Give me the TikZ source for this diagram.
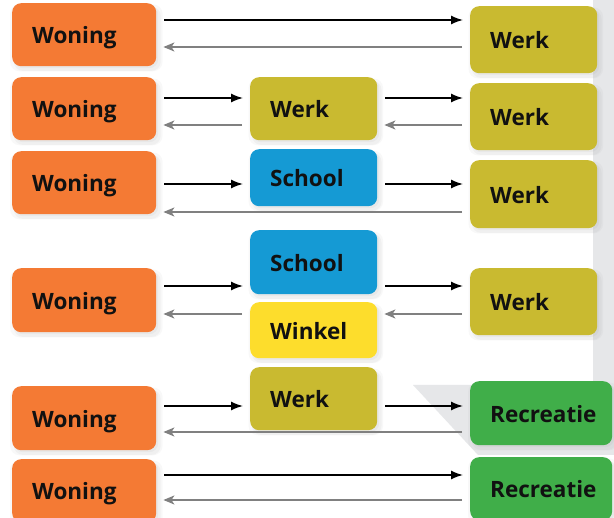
\documentclass[tikz,border=0pt]{standalone}
\usepackage{fontspec}
\setmainfont{Open Sans}
\usetikzlibrary{arrows.meta,shadows}
\definecolor{cOrange}{RGB}{244,122,52}
\definecolor{cOlive}{RGB}{201,186,48}
\definecolor{cBlue}{RGB}{21,154,212}
\definecolor{cYellow}{RGB}{253,221,44}
\definecolor{cGreen}{RGB}{64,174,73}
\definecolor{cGreyArrow}{RGB}{128,128,128}
\definecolor{cBg}{RGB}{230,231,233}
\definecolor{cText}{RGB}{17,17,17}
\tikzset{
  box/.style={rectangle, rounded corners=9pt, anchor=north west, align=left,
    inner xsep=20pt, inner ysep=0pt, text=cText, text height=18pt, text depth=0pt,
    font=\fontsize{22.5}{24}\selectfont\bfseries,
    drop shadow={opacity=0.05, shadow xshift=2pt, shadow yshift=-3pt, shadow scale=1.06},
    drop shadow={opacity=0.06, shadow xshift=3pt, shadow yshift=-4pt, shadow scale=1.02},
    drop shadow={opacity=0.07, shadow xshift=2pt, shadow yshift=-2pt}},
  wbox/.style={box, fill=cOrange, text width=104pt},
  kbox/.style={box, fill=cOlive, text width=87pt},
  sbox/.style={box, fill=cBlue, text width=87pt},
  ybox/.style={box, fill=cYellow, text width=87pt},
  rbox/.style={box, fill=cGreen, text width=102pt},
  blk/.style={draw=black, line width=1.5pt, -{Latex[length=12pt,width=9pt]}, shorten <=8pt, shorten >=7pt},
  gry/.style={draw=cGreyArrow, line width=1.5pt, -{Stealth[length=11pt,width=9pt,inset=3pt]}, shorten <=8pt, shorten >=7pt}
}
\begin{document}
\begin{tikzpicture}[x=1pt,y=-1pt]
\useasboundingbox (0,0) rectangle (614,518);
\clip (0,0) rectangle (614,518);
\fill[white] (0,0) rectangle (614,518);
% grey background panel
\fill[cBg] (593,0) -- (614,0) -- (614,455) -- (478,455) -- (413,385) -- (593,385) -- cycle;
% row 1
\node[wbox, minimum height=63pt] (w1) at (12,3) {Woning};
\node[kbox, minimum height=67pt] (k1) at (470,6) {Werk};
% row 2
\node[wbox, minimum height=63pt] (w2) at (12,77) {Woning};
\node[kbox, minimum height=63pt] (m2) at (250,77) {Werk};
\node[kbox, minimum height=67pt] (k2) at (470,83) {Werk};
% row 3
\node[wbox, minimum height=63pt] (w3) at (12,151) {Woning};
\node[sbox, minimum height=57pt] (m3) at (250,149) {School};
\node[kbox, minimum height=68pt] (k3) at (470,160) {Werk};
% row 4
\node[wbox, minimum height=64pt] (w4) at (12,268) {Woning};
\node[sbox, minimum height=64pt] (m4a) at (250,230) {School};
\node[ybox, minimum height=56pt] (m4b) at (250,302) {Winkel};
\node[kbox, minimum height=67pt] (k4) at (470,268) {Werk};
% row 5
\node[wbox, minimum height=64pt] (w5) at (12,386) {Woning};
\node[kbox, minimum height=63pt] (m5) at (250,367) {Werk};
\node[rbox, minimum height=64pt] (k5) at (470,381) {Recreatie};
% row 6
\node[wbox, minimum height=63pt] (w6) at (12,459) {Woning};
\node[rbox, minimum height=63pt] (k6) at (470,457) {Recreatie};
% arrows row 1
\draw[blk] (w1.east |- 0,20) -- (k1.west |- 0,20);
\draw[gry] (k1.west |- 0,47) -- (w1.east |- 0,47);
% row 2
\draw[blk] (w2.east |- 0,98) -- (m2.west |- 0,98);
\draw[blk] (m2.east |- 0,98) -- (k2.west |- 0,98);
\draw[gry] (m2.west |- 0,125) -- (w2.east |- 0,125);
\draw[gry] (k2.west |- 0,125) -- (m2.east |- 0,125);
% row 3
\draw[blk] (w3.east |- 0,184) -- (m3.west |- 0,184);
\draw[blk] (m3.east |- 0,184) -- (k3.west |- 0,184);
\draw[gry] (k3.west |- 0,212) -- (w3.east |- 0,212);
% row 4
\draw[blk] (w4.east |- 0,286) -- (m4a.west |- 0,286);
\draw[blk] (m4a.east |- 0,286) -- (k4.west |- 0,286);
\draw[gry] (m4b.west |- 0,314) -- (w4.east |- 0,314);
\draw[gry] (k4.west |- 0,314) -- (m4b.east |- 0,314);
% row 5
\draw[blk] (w5.east |- 0,406) -- (m5.west |- 0,406);
\draw[blk] (m5.east |- 0,406) -- (k5.west |- 0,406);
\draw[gry] (k5.west |- 0,432) -- (w5.east |- 0,432);
% row 6
\draw[blk] (w6.east |- 0,475) -- (k6.west |- 0,475);
\draw[gry] (k6.west |- 0,500) -- (w6.east |- 0,500);
\end{tikzpicture}
\end{document}
